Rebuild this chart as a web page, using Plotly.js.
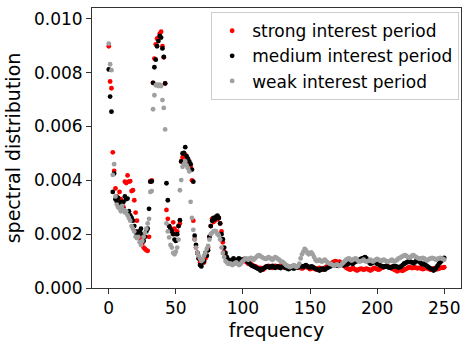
<!DOCTYPE html>
<html>
<head>
<meta charset="utf-8">
<script src="https://cdn.plot.ly/plotly-3.0.1.min.js"></script>
<style>html,body{margin:0;padding:0;background:#fff;}#chart{width:468px;height:341px;}</style>
</head>
<body>
<div id="chart"></div>
<script>
// Series names
const seriesNames = ["strong interest period", "medium interest period", "weak interest period"];

// Spectral distribution per frequency bin (0..250)
const strongValues = [
0.00898,0.00767,0.00742,0.00504,0.00435,0.0037,0.0034,0.0032,0.00357,0.0033,
0.0031,0.003,0.00395,0.0039,0.00418,0.00395,0.00397,0.0036,0.00363,0.00326,
0.0028,0.0025,0.0021,0.0019,0.0018,0.00165,0.0015,0.00145,0.0014,0.00138,
0.0019,0.00396,0.004,0.00762,0.00852,0.00905,0.00926,0.0093,0.00945,0.00952,
0.00898,0.00857,0.0076,0.0029,0.00257,0.0023,0.0022,0.0021,0.00244,0.0022,
0.002,0.0021,0.0023,0.0024,0.0047,0.00485,0.0049,0.00495,0.00475,0.0047,
0.0046,0.0045,0.004,0.0025,0.00181,0.0015,0.0013,0.0011,0.00095,0.0009,
0.001,0.00095,0.0011,0.0012,0.0015,0.0019,0.0023,0.00257,0.00245,0.0025,
0.0026,0.00255,0.0026,0.0024,0.0021,0.0017,0.00135,0.0012,0.00105,0.001,
0.00095,
0.001,0.00095,0.0009,0.00095,0.001,0.00105,0.001,0.00095,0.001,
0.001,0.00102,0.00098,0.00095,0.0009,0.00092,0.00088,0.00085,
0.00082,0.0008,0.00078,0.00075,0.00072,0.00075,0.0007,0.00068,0.00072,
0.00078,0.0008,0.00082,0.0008,0.00078,0.00075,0.0008,0.00082,0.0008,0.00078,0.0008,0.00083,0.0008,0.00078,0.00076,
0.0008,0.00082,0.00078,0.00075,0.00078,0.0008,0.00082,0.00078,0.00076,0.0008,
0.00078,0.00075,0.00072,0.00075,0.00078,0.0008,0.00077,0.00074,0.0007,0.00072,0.00075,0.00073,
0.0007,0.00068,0.00072,0.00075,0.0007,0.00068,0.00072,0.00075,0.00078,0.0008,0.00085,0.0009,0.00092,
0.00095,0.00098,0.001,0.00097,0.00095,0.00098,0.00093,0.0009,0.00085,0.0008,
0.00075,0.00072,0.0007,0.00068,0.00072,0.00075,0.0007,0.00068,0.00065,0.00068,0.0007,0.00072,0.0007,0.00068,0.0007,
0.00072,0.0007,0.00068,0.00065,0.00068,0.00072,0.00075,0.00072,0.0007,0.00068,0.0007,0.00074,0.00076,0.00078,
0.0008,0.00082,0.0008,0.00078,0.00075,0.00072,0.0007,0.00068,0.00065,0.00062,0.00065,0.00068,0.00066,0.00064,0.00067,
0.0007,0.00072,0.00075,0.00078,0.00076,0.00074,0.00075,0.00077,0.00075,0.00073,0.00075,0.00074,0.00072,0.0007,0.00072,
0.00075,0.00074,0.00072,0.0007,0.00068,0.0007,0.00072,0.00074,0.00072,0.0007,0.00072,0.00074,0.00076,0.00075,0.00077
];

const mediumValues = [
0.00812,0.00711,0.00655,0.00357,0.00425,0.0033,0.0032,0.00335,0.0031,0.0032,
0.003,0.0032,0.0034,0.0033,0.00332,0.00285,0.0027,0.0026,0.0025,0.0023,
0.0021,0.002,0.00195,0.0021,0.0022,0.002,0.00175,0.0019,0.0021,0.0022,
0.00294,0.00395,0.00396,0.00762,0.0082,0.00848,0.00898,0.00917,0.00936,0.0093,
0.0089,0.00858,0.0076,0.00389,0.00326,0.0023,0.0022,0.0021,0.002,0.0018,
0.00175,0.002,0.0023,0.00252,0.0047,0.005,0.00502,0.00523,0.0049,0.0048,
0.0047,0.0046,0.0044,0.00395,0.00194,0.0016,0.0013,0.0011,0.00085,0.0008,
0.00095,0.001,0.0013,0.0012,0.0014,0.0019,0.0023,0.0025,0.0026,0.00255,
0.00265,0.00269,0.0026,0.0024,0.002,0.00181,0.0015,0.0013,0.00115,0.00105,
0.00095,
0.001,0.00105,0.0011,0.001,0.00095,0.00105,0.0011,0.001,0.00105,
0.00105,0.00108,0.00105,0.001,0.00095,0.0009,0.00085,0.00082,
0.0008,0.00078,0.00075,0.00072,0.0007,0.00065,0.00068,0.00072,0.00075,
0.00078,0.0008,0.00078,0.00076,0.0008,0.00082,0.00078,0.00075,0.00078,0.0008,0.00076,0.00074,0.00078,0.0008,0.00077,
0.00075,0.00072,0.0007,0.00073,0.00076,0.00074,0.00072,0.00075,0.00078,0.00076,
0.0008,0.00082,0.0008,0.00078,0.00082,0.00085,0.0008,0.00078,0.00076,0.0008,0.00078,0.00075,
0.00072,0.0007,0.00068,0.00065,0.00068,0.00072,0.0007,0.00068,0.00072,0.00075,0.00078,0.0008,0.00082,
0.00085,0.00083,0.00086,0.00084,0.00082,0.00085,0.00088,0.00086,0.00084,0.00087,
0.0009,0.00088,0.00092,0.00095,0.00092,0.0009,0.00095,0.00098,0.001,0.00102,0.00105,0.00108,0.0011,0.00112,0.00115,
0.0011,0.001,0.00095,0.0009,0.00092,0.00095,0.00098,0.00095,0.0009,0.00088,0.00085,0.00082,0.0008,0.00078,
0.0008,0.00082,0.00078,0.00076,0.00075,0.00078,0.0008,0.00082,0.0008,0.00078,0.00076,0.00078,0.0008,0.00085,0.0009,
0.00092,0.00095,0.00098,0.001,0.00097,0.00095,0.00092,0.00095,0.001,0.00102,0.00098,0.00095,0.0009,0.00088,0.0009,
0.00085,0.00082,0.00078,0.00075,0.00072,0.0007,0.00065,0.00068,0.00075,0.00082,0.0009,0.00095,0.001,0.00108,0.00112
];

const weakValues = [
0.00908,0.00831,0.00809,0.0042,0.0046,0.0034,0.0031,0.003,0.00295,0.00285,
0.00305,0.0029,0.0028,0.00285,0.0027,0.0026,0.0025,0.0023,0.0022,0.0021,
0.0019,0.00185,0.0019,0.0017,0.0016,0.00175,0.0019,0.00205,0.0022,0.0024,
0.00257,0.00357,0.0036,0.00664,0.00716,0.00753,0.00755,0.0075,0.00755,0.0075,
0.00698,0.00669,0.00589,0.0024,0.0021,0.00188,0.0016,0.0015,0.0013,0.00125,
0.00135,0.0015,0.0018,0.00363,0.00401,0.0045,0.0046,0.0047,0.00455,0.00445,
0.00433,0.0032,0.0026,0.00216,0.0018,0.0015,0.0013,0.0012,0.0011,0.001,
0.00105,0.0012,0.0013,0.00145,0.00156,0.0018,0.002,0.00205,0.0021,0.00212,
0.0021,0.002,0.00195,0.0018,0.0015,0.0013,0.00115,0.001,0.00095,0.0009,
0.0009,
0.0009,0.00085,0.00088,0.00092,0.00095,0.0009,0.00085,0.00088,0.00095,
0.001,0.00105,0.0011,0.00108,0.00105,0.0011,0.00112,0.0011,
0.00105,0.0011,0.00115,0.0012,0.00122,0.00118,0.00115,0.00112,0.0011,
0.00108,0.0011,0.00115,0.00112,0.00108,0.00105,0.0011,0.00115,0.00112,0.00108,0.00105,0.001,0.00098,0.00095,0.0009,
0.00085,0.00082,0.0008,0.00078,0.0008,0.00082,0.00085,0.0008,0.00078,0.00082,
0.0009,0.0011,0.00125,0.00135,0.00145,0.0014,0.0013,0.00125,0.0013,0.00132,0.00125,0.00115,
0.00105,0.001,0.00102,0.00105,0.001,0.00098,0.00102,0.00105,0.001,0.00095,0.00092,0.0009,0.00088,
0.00085,0.00082,0.00085,0.00088,0.00085,0.00082,0.00085,0.0009,0.00095,0.001,
0.00105,0.00108,0.0011,0.00105,0.00102,0.00105,0.00108,0.0011,0.00105,0.001,0.00098,0.001,0.00102,0.00105,0.001,
0.00098,0.001,0.00102,0.00105,0.001,0.00098,0.00102,0.00105,0.00108,0.00105,0.00102,0.001,0.00103,0.00105,
0.00102,0.001,0.00098,0.001,0.00102,0.00105,0.001,0.00098,0.00102,0.00105,0.0011,0.00112,0.00115,0.00118,0.0012,
0.00122,0.00118,0.00115,0.00112,0.00115,0.0012,0.00122,0.00118,0.00115,0.00112,0.0011,0.00108,0.0011,0.00112,0.0011,
0.00105,0.00102,0.00105,0.00108,0.0011,0.00112,0.0011,0.00108,0.00105,0.00108,0.0011,0.00112,0.0011,0.00108,0.00105
];

const seriesColors = ["#ff0000", "#000000", "#a0a0a0"];
const yTickVals = [0, 0.002, 0.004, 0.006, 0.008, 0.010];
const yTickText = ["0.000", "0.002", "0.004", "0.006", "0.008", "0.010"];
const xTickVals = [0, 50, 100, 150, 200, 250];

function freqAxis(n) { const a = []; for (let i = 0; i < n; i++) a.push(i); return a; }

const allValues = [strongValues, mediumValues, weakValues];
const traces = allValues.map((vals, k) => ({
  type: "scatter",
  mode: "markers",
  name: seriesNames[k],
  x: freqAxis(vals.length),
  y: vals,
  marker: { color: seriesColors[k], size: 4.8, line: { width: 0 } },
  hoverinfo: "x+y"
}));

const font = "DejaVu Sans, Liberation Sans, sans-serif";
const layout = {
  width: 468, height: 341,
  margin: { l: 92, r: 7, t: 8, b: 53, pad: 0 },
  paper_bgcolor: "#ffffff", plot_bgcolor: "#ffffff",
  font: { family: font, size: 17, color: "#000000" },
  showlegend: true,
  legend: {
    x: 0.995, xanchor: "right", y: 0.985, yanchor: "top",
    bgcolor: "rgba(255,255,255,0.85)", bordercolor: "#cccccc", borderwidth: 1,
    font: { family: font, size: 17, color: "#000000" },
    itemsizing: "trace", tracegroupgap: 0
  },
  xaxis: {
    range: [-12.5, 262.5],
    tickvals: xTickVals, ticktext: xTickVals.map(String),
    ticks: "outside", ticklen: 5, tickwidth: 1, tickcolor: "#333",
    showline: true, linecolor: "#333", linewidth: 1, mirror: true,
    showgrid: false, zeroline: false,
    tickfont: { family: font, size: 17 },
    title: { text: "frequency", font: { family: font, size: 19 }, standoff: 6 }
  },
  yaxis: {
    range: [0, 0.0104],
    tickvals: yTickVals, ticktext: yTickText,
    ticks: "outside", ticklen: 5, tickwidth: 1, tickcolor: "#333",
    showline: true, linecolor: "#333", linewidth: 1, mirror: true,
    showgrid: false, zeroline: false,
    tickfont: { family: font, size: 17 },
    title: { text: "spectral distribution", font: { family: font, size: 19 }, standoff: 8 }
  }
};

Plotly.newPlot("chart", traces, layout, { staticPlot: true, displayModeBar: false });
</script>
</body>
</html>
